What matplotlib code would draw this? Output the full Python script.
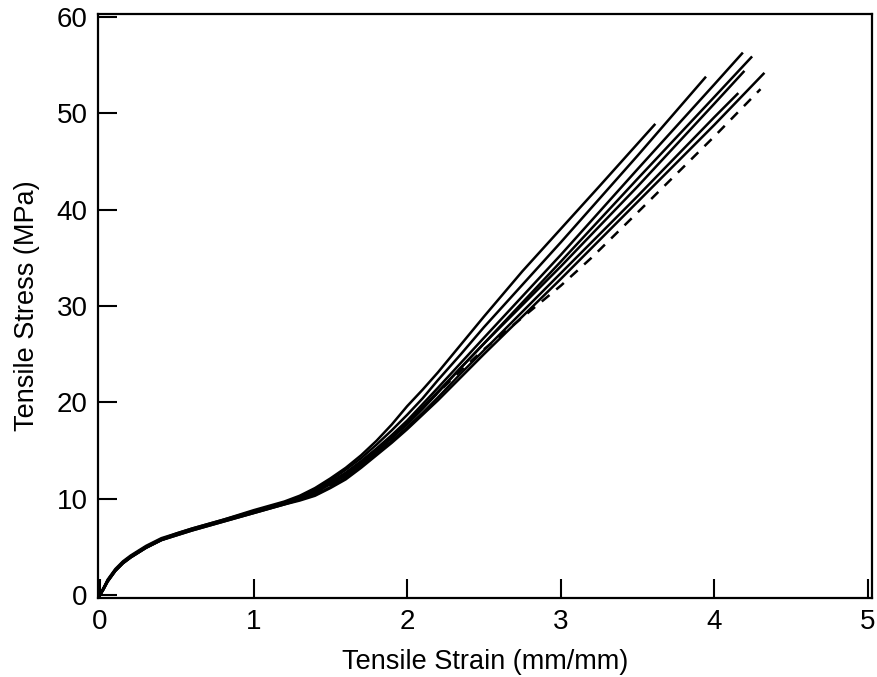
import matplotlib
matplotlib.use("Agg")
import matplotlib.pyplot as plt

plt.rcParams['font.family'] = ['Liberation Sans', 'DejaVu Sans']

# Shared strain points of the early region (mm/mm)
strain_early = [0, 0.02, 0.05, 0.1, 0.15, 0.2, 0.3, 0.4, 0.5, 0.6, 0.8, 1.0, 1.2,
                1.3, 1.4, 1.5, 1.6, 1.7, 1.8, 1.9, 2.0, 2.1, 2.2, 2.35, 2.5]

# Curves: strain and stress lists (MPa)
curve_A_x = strain_early + [2.75, 3.0, 3.25, 3.61]
curve_A_y = [0, 0.6, 1.6, 2.7, 3.5, 4.1, 5.1, 5.9, 6.4, 6.9, 7.8, 8.8, 9.7,
             10.3, 11.1, 12.1, 13.2, 14.5, 16.0, 17.7, 19.6, 21.3, 23.1, 26.0, 28.9,
             33.6, 38.0, 42.4, 48.8]

curve_B_x = strain_early + [3.0, 3.5, 3.94]
curve_B_y = [0, 0.6, 1.5, 2.6, 3.4, 4.0, 5.0, 5.8, 6.4, 6.9, 7.8, 8.7, 9.6,
             10.2, 11.0, 11.9, 13.0, 14.2, 15.6, 17.1, 18.7, 20.4, 22.3, 25.0, 27.8,
             36.6, 45.6, 53.7]

curve_C_x = strain_early + [3.0, 3.5, 4.0, 4.18]
curve_C_y = [0, 0.6, 1.5, 2.6, 3.4, 4.0, 5.0, 5.8, 6.3, 6.8, 7.7, 8.6, 9.5,
             10.1, 10.8, 11.7, 12.7, 13.9, 15.2, 16.6, 18.1, 19.8, 21.5, 24.1, 26.7,
             35.3, 44.2, 53.0, 56.2]

curve_D_x = strain_early + [3.0, 3.5, 4.0, 4.24]
curve_D_y = [0, 0.5, 1.4, 2.5, 3.3, 3.9, 4.9, 5.7, 6.3, 6.8, 7.7, 8.6, 9.5,
             10.0, 10.6, 11.5, 12.4, 13.6, 14.9, 16.3, 17.7, 19.3, 21.0, 23.6, 26.1,
             34.6, 43.2, 51.7, 55.8]

curve_E_x = strain_early + [3.0, 3.5, 4.0, 4.19]
curve_E_y = [0, 0.6, 1.5, 2.6, 3.4, 4.0, 5.0, 5.8, 6.3, 6.8, 7.7, 8.6, 9.5,
             10.1, 10.7, 11.6, 12.6, 13.7, 15.0, 16.4, 17.9, 19.5, 21.1, 23.6, 26.1,
             34.1, 42.4, 51.0, 54.3]

curve_F_x = strain_early + [3.0, 3.5, 4.0, 4.15]
curve_F_y = [0, 0.5, 1.4, 2.5, 3.3, 3.9, 4.9, 5.7, 6.2, 6.7, 7.6, 8.5, 9.4,
             9.9, 10.4, 11.2, 12.2, 13.4, 14.7, 16.0, 17.4, 18.9, 20.5, 23.0, 25.4,
             33.4, 41.4, 49.6, 52.0]

curve_G_x = strain_early + [3.0, 3.5, 4.0, 4.32]
curve_G_y = [0, 0.5, 1.4, 2.5, 3.3, 3.9, 4.9, 5.7, 6.2, 6.7, 7.6, 8.5, 9.4,
             9.8, 10.3, 11.1, 12.0, 13.2, 14.5, 15.8, 17.2, 18.7, 20.2, 22.6, 25.0,
             32.8, 40.8, 48.8, 54.1]

curve_H_x = strain_early + [3.0, 3.2, 3.5, 4.0, 4.30]
curve_H_y = [0, 0.6, 1.5, 2.6, 3.4, 4.0, 5.0, 5.8, 6.3, 6.8, 7.7, 8.6, 9.5,
             10.0, 10.5, 11.4, 12.3, 13.5, 14.9, 16.3, 17.9, 19.4, 21.0, 23.3, 25.5,
             32.1, 35.0, 39.7, 47.6, 52.5]

solid_curves = [
    (curve_A_x, curve_A_y),
    (curve_B_x, curve_B_y),
    (curve_C_x, curve_C_y),
    (curve_D_x, curve_D_y),
    (curve_E_x, curve_E_y),
    (curve_F_x, curve_F_y),
    (curve_G_x, curve_G_y),
]
dashed_curve = (curve_H_x, curve_H_y)

x_ticks = [0, 1, 2, 3, 4, 5]
y_ticks = [0, 10, 20, 30, 40, 50, 60]

fig = plt.figure(figsize=(8.77, 6.77), dpi=100)
ax = fig.add_axes([97.5/877, 79.3/677, 774.5/877, 583.7/677])

for xs, ys in solid_curves:
    ax.plot(xs, ys, color='black', lw=1.8, solid_joinstyle='round')
ax.plot(dashed_curve[0], dashed_curve[1], color='black', lw=1.8, linestyle=(0, (4, 3.5)))

ax.set_xlim(-0.016, 5.026)
ax.set_ylim(-0.28, 60.3)
ax.set_xticks(x_ticks)
ax.set_yticks(y_ticks)
ax.set_xticklabels([str(t) for t in x_ticks])
ax.set_yticklabels([str(t) for t in y_ticks])
ax.tick_params(direction='in', length=13.5, width=1.5, labelsize=20, colors='black')
ax.tick_params(axis='x', pad=8)
ax.tick_params(axis='y', pad=7)
for s in ax.spines.values():
    s.set_linewidth(1.6)

ax.set_xlabel('Tensile Strain (mm/mm)', fontsize=19.5, labelpad=10)
ax.set_ylabel('Tensile Stress (MPa)', fontsize=19.5, labelpad=12)

fig.savefig('out.png', dpi=100)
